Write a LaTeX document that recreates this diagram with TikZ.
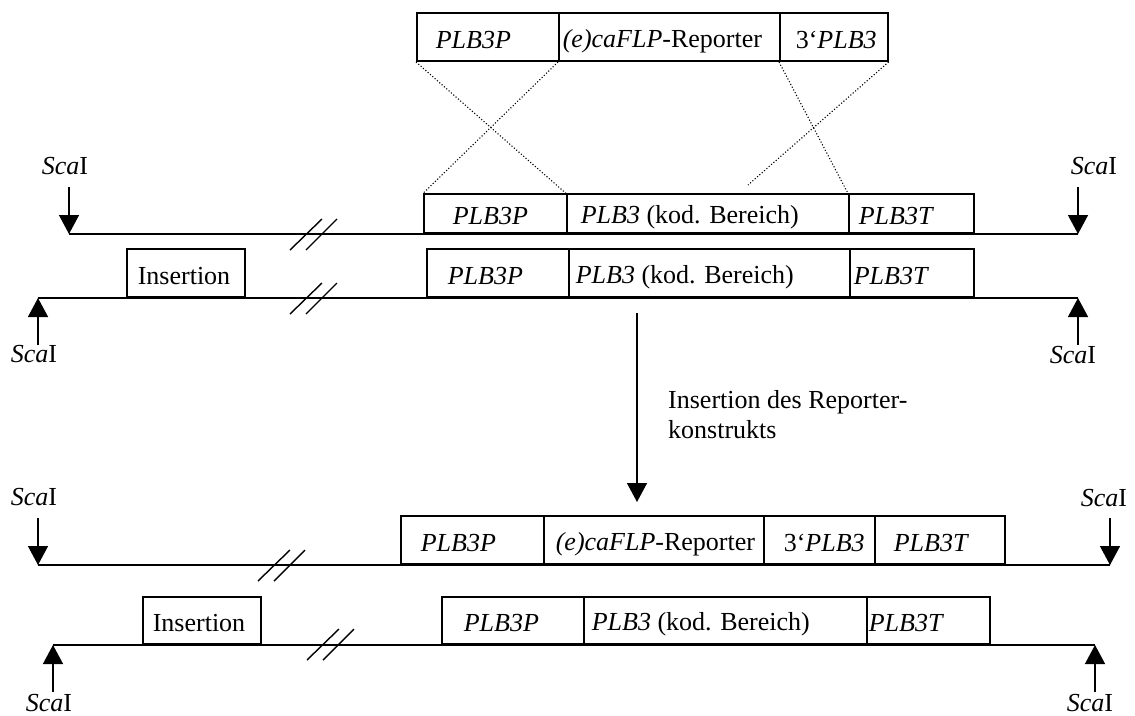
\documentclass[tikz,border=0pt]{standalone}
\usepackage{fontspec}
\setmainfont{Liberation Serif}
\usetikzlibrary{arrows.meta}
\newcommand{\boxtxt}[3]{\makebox[#1][l]{\hspace*{#2}\rule[-4pt]{0pt}{30pt}#3}}
\tikzset{
  seg/.style={draw, line width=1.6pt, inner sep=0pt, anchor=south west, minimum height=48pt},
  dna/.style={line width=1.6pt},
  brk/.style={line width=1.4pt},
  site/.style={line width=1.4pt, -{Triangle[length=19pt,width=20pt]}},
  cross/.style={dotted, line width=1.1pt},
  lbl/.style={inner sep=0pt}
}
\begin{document}
\begin{tikzpicture}[x=1pt, y=-1pt, every node/.style={font=\fontsize{26}{30}\selectfont}]
\useasboundingbox (0,0) rectangle (1135,715);
% ===== reporter construct =====
\node[seg] (t1) at (416,62) {\boxtxt{142pt}{19pt}{\textit{PLB3P}}};
\node[seg] (t2) at (558,62) {\boxtxt{221pt}{4pt}{\textit{(e)caFLP}-Reporter}};
\node[seg] (t3) at (779,62) {\boxtxt{108pt}{16pt}{3‘\textit{PLB3}}};
% ===== wild type allele =====
\node[seg, minimum height=39pt] (a1) at (423,234) {\boxtxt{143pt}{29pt}{\textit{PLB3P}}};
\node[seg, minimum height=39pt] (a2) at (566,234) {\boxtxt{282pt}{14pt}{\textit{PLB3} (kod. Bereich)}};
\node[seg, minimum height=39pt] (a3) at (848,234) {\boxtxt{125pt}{10pt}{\textit{PLB3T}}};
% ===== allele with insertion =====
\node[seg] (b0) at (126,298) {\boxtxt{118pt}{11pt}{Insertion}};
\node[seg] (b1) at (426,298) {\boxtxt{142pt}{21pt}{\textit{PLB3P}}};
\node[seg] (b2) at (568,298) {\boxtxt{281pt}{7pt}{\textit{PLB3} (kod. Bereich)}};
\node[seg] (b3) at (849,298) {\boxtxt{124pt}{4pt}{\textit{PLB3T}}};
% ===== after integration =====
\node[seg] (c1) at (400,565) {\boxtxt{143pt}{20pt}{\textit{PLB3P}}};
\node[seg] (c2) at (543,565) {\boxtxt{220pt}{12pt}{\textit{(e)caFLP}-Reporter}};
\node[seg] (c3) at (763,565) {\boxtxt{111pt}{20pt}{3‘\textit{PLB3}}};
\node[seg] (c4) at (874,565) {\boxtxt{130pt}{19pt}{\textit{PLB3T}}};
\node[seg, minimum height=47pt] (d0) at (142,645) {\boxtxt{118pt}{10pt}{Insertion}};
\node[seg, minimum height=47pt] (d1) at (441,645) {\boxtxt{142pt}{22pt}{\textit{PLB3P}}};
\node[seg, minimum height=47pt] (d2) at (583,645) {\boxtxt{283pt}{8pt}{\textit{PLB3} (kod. Bereich)}};
\node[seg, minimum height=47pt] (d3) at (866,645) {\boxtxt{123pt}{2pt}{\textit{PLB3T}}};
% ScaI sites: arrow start and tip on the strand
\foreach \n/\x/\ys/\ye in {1a/69/187/234, 1b/1078/187/234, 2a/38/345/298, 2b/1078/345/298,
  3a/38/518/565, 3b/1110/518/565, 4a/53/692/645, 4b/1095/692/645}{
  \coordinate (s\n) at (\x,\ys);
  \coordinate (c\n) at (\x,\ye);
  \draw[site] (s\n) -- (c\n);
}
\foreach \n/\lx/\ly in {1a/65/166, 1b/1094/166, 2a/34/354, 2b/1073/355,
  3a/34/497, 3b/1104/498, 4a/49/703, 4b/1090/703}{
  \node[lbl] (sca\n) at (\lx,\ly) {\textit{Sca}I};
}
% strands
\draw[dna] (c1a) -- (c1b);
\draw[dna] (c2a) -- (c2b);
\draw[dna] (c3a) -- (c3b);
\draw[dna] (c4a) -- (c4b);
% break marks
\foreach \x/\y in {290/250, 290/314, 258/581, 307/660}{
  \draw[brk] (\x,\y) -- ++(32,-31) (\x+16,\y) -- ++(31,-31);
}
% homologous recombination
\coordinate (t3end) at (748,185);
\draw[cross] (t1.south west) -- (a2.north west);
\draw[cross] (t2.south west) -- (a1.north west);
\draw[cross] (t3.south west) -- (a3.north west);
\draw[cross] (t3.south east) -- (t3end);
% integration step
\coordinate (instop) at (637,313);
\coordinate (instip) at (637,502);
\draw[site] (instop) -- (instip);
\node[lbl, anchor=west, align=left] (inslbl) at (668,415) {Insertion des Reporter-\\konstrukts};
\end{tikzpicture}
\end{document}
